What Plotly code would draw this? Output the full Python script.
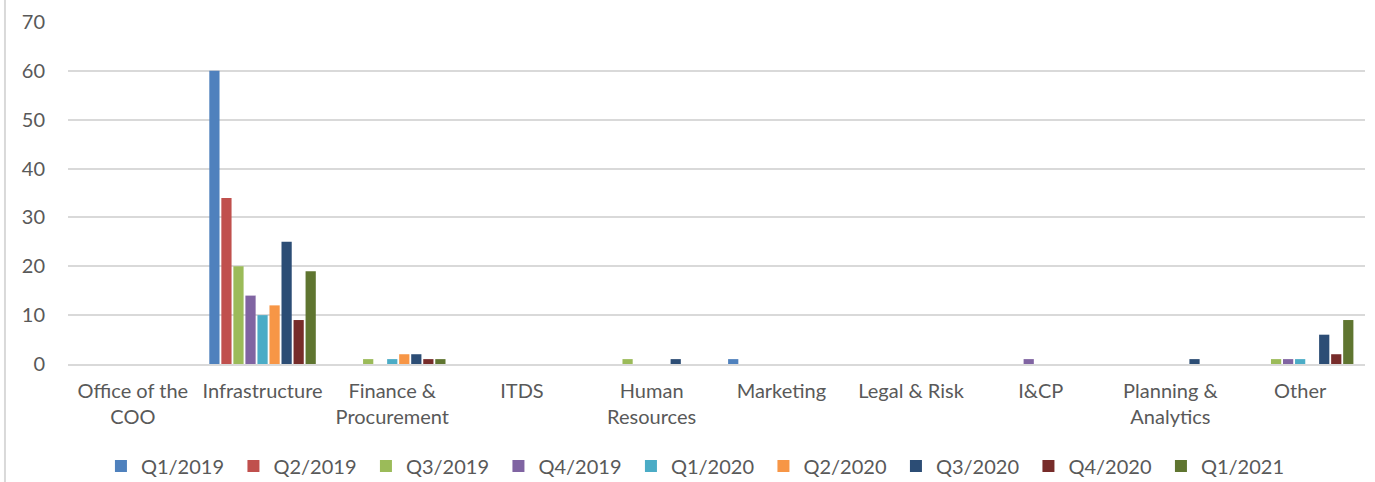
import plotly.graph_objects as go

categories = ["Office of the<br>COO", "Infrastructure", "Finance &<br>Procurement", "ITDS",
              "Human<br>Resources", "Marketing", "Legal & Risk", "I&CP",
              "Planning &<br>Analytics", "Other"]
series_names = ["Q1/2019", "Q2/2019", "Q3/2019", "Q4/2019", "Q1/2020",
                "Q2/2020", "Q3/2020", "Q4/2020", "Q1/2021"]
q1_2019 = [0, 60, 0, 0, 0, 1, 0, 0, 0, 0]
q2_2019 = [0, 34, 0, 0, 0, 0, 0, 0, 0, 0]
q3_2019 = [0, 20, 1, 0, 1, 0, 0, 0, 0, 1]
q4_2019 = [0, 14, 0, 0, 0, 0, 0, 1, 0, 1]
q1_2020 = [0, 10, 1, 0, 0, 0, 0, 0, 0, 1]
q2_2020 = [0, 12, 2, 0, 0, 0, 0, 0, 0, 0]
q3_2020 = [0, 25, 2, 0, 1, 0, 0, 0, 1, 6]
q4_2020 = [0, 9, 1, 0, 0, 0, 0, 0, 0, 2]
q1_2021 = [0, 19, 1, 0, 0, 0, 0, 0, 0, 9]
series_values = [q1_2019, q2_2019, q3_2019, q4_2019, q1_2020, q2_2020, q3_2020, q4_2020, q1_2021]
colors = ["#4F81BD", "#C0504D", "#9BBB59", "#8064A2", "#4BACC6",
          "#F79646", "#2C4D75", "#772C2A", "#5F7530"]
y_ticks = [0, 10, 20, 30, 40, 50, 60, 70]

fig = go.Figure()
for name, vals, col in zip(series_names, series_values, colors):
    fig.add_trace(go.Bar(x=categories, y=vals, name=name, marker=dict(color=col, line=dict(width=0))))

font_fam = "Lato, 'Open Sans', sans-serif"
fig.update_layout(
    width=1375, height=482,
    margin=dict(l=68, r=10, t=22, b=118, autoexpand=False),
    paper_bgcolor="white", plot_bgcolor="white",
    barmode="group", bargap=0.165, bargroupgap=0.15,
    font=dict(family=font_fam, size=20, color="#595959"),
    showlegend=True,
    legend=dict(orientation="h", x=0.0254, xanchor="left", y=-0.298, yanchor="middle",
                font=dict(size=20, color="#595959"), traceorder="normal",
                itemwidth=30, entrywidth=87.5, entrywidthmode="pixels"),
    xaxis=dict(showgrid=False, showline=True, linecolor="#d9d9d9", linewidth=2,
               tickfont=dict(size=20, color="#595959"), ticks="", automargin=False,
               ticklabelstandoff=8),
    yaxis=dict(range=[0, 70], tickvals=y_ticks, showgrid=True, gridcolor="#d9d9d9",
               gridwidth=1.5, zeroline=False, showline=False, ticks="", automargin=False,
               tickfont=dict(size=20, color="#595959"), ticklabelstandoff=22),
    shapes=[dict(type="line", xref="paper", yref="paper", x0=-0.0486, x1=-0.0486,
                 y0=-0.345, y1=1.064, line=dict(color="#d9d9d9", width=2))],
)
fig.write_html("out.html", config={"displayModeBar": False},
               post_script="document.body.style.margin='0';document.body.style.overflow='hidden';")
